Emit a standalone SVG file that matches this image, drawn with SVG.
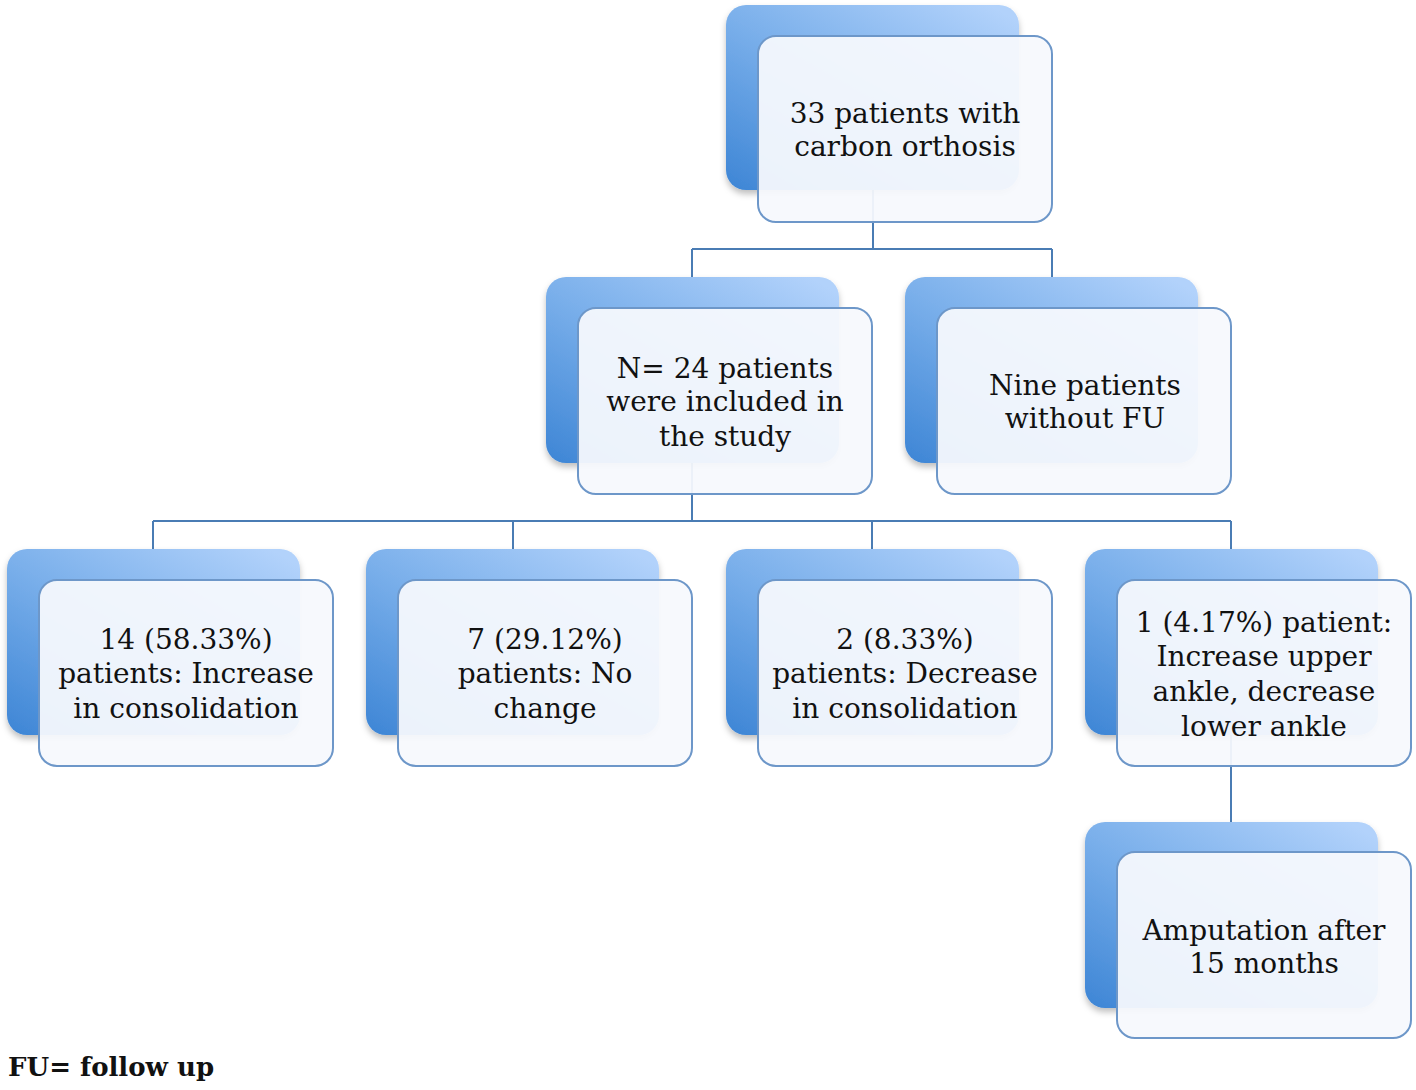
<svg xmlns="http://www.w3.org/2000/svg" width="1416" height="1090" viewBox="0 0 1416 1090">
<defs>
<linearGradient id="blueg" x1="0" y1="1" x2="0.9" y2="0">
<stop offset="0" stop-color="#3d85d5"/>
<stop offset="0.5" stop-color="#78aeea"/>
<stop offset="1" stop-color="#b2d2fb"/>
</linearGradient>
<filter id="sh" x="-10%" y="-10%" width="120%" height="125%">
<feDropShadow dx="0" dy="4" stdDeviation="3" flood-color="#000" flood-opacity="0.25"/>
</filter>
</defs>
<style>
.back{fill:url(#blueg);filter:url(#sh)}
.front{fill:#f7f9fd;fill-opacity:0.94;stroke:#6d97c9;stroke-width:2}
.conn{fill:none;stroke:#4a7cb4;stroke-width:2}
.t{font-family:"DejaVu Serif","Liberation Serif",serif;font-size:28px;fill:#111;text-anchor:middle}
.lg{font-family:"DejaVu Serif","Liberation Serif",serif;font-size:26px;font-weight:bold;fill:#111}
</style>
<rect width="1416" height="1090" fill="#fff"/>
<g id="connectors">
<path class="conn" d="M873 190V249M692 249H1052M692 249V277M1052 249V277"/>
<path class="conn" d="M692 463V521M153 521H1231M153 521V549M513 521V549M872 521V549M1231 521V549"/>
<path class="conn" d="M1231 735V822"/>
</g>
<g id="n1">
<rect class="back" x="726" y="5" width="293" height="185" rx="20"/>
<rect class="front" x="758" y="36" width="294" height="186" rx="18"/>
<text class="t" x="905" y="123">33 patients with</text>
<text class="t" x="905" y="156">carbon orthosis</text>
</g>
<g id="n2">
<rect class="back" x="546" y="277" width="293" height="186" rx="20"/>
<rect class="front" x="578" y="308" width="294" height="186" rx="18"/>
<text class="t" x="725" y="378">N= 24 patients</text>
<text class="t" x="725" y="411">were included in</text>
<text class="t" x="725" y="446">the study</text>
</g>
<g id="n3">
<rect class="back" x="905" y="277" width="293" height="186" rx="20"/>
<rect class="front" x="937" y="308" width="294" height="186" rx="18"/>
<text class="t" x="1085" y="395">Nine patients</text>
<text class="t" x="1085" y="428">without FU</text>
</g>
<g id="n4">
<rect class="back" x="7" y="549" width="293" height="186" rx="20"/>
<rect class="front" x="39" y="580" width="294" height="186" rx="18"/>
<text class="t" x="186" y="649">14 (58.33%)</text>
<text class="t" x="186" y="683">patients: Increase</text>
<text class="t" x="186" y="718">in consolidation</text>
</g>
<g id="n5">
<rect class="back" x="366" y="549" width="293" height="186" rx="20"/>
<rect class="front" x="398" y="580" width="294" height="186" rx="18"/>
<text class="t" x="545" y="649">7 (29.12%)</text>
<text class="t" x="545" y="683">patients: No</text>
<text class="t" x="545" y="718">change</text>
</g>
<g id="n6">
<rect class="back" x="726" y="549" width="293" height="186" rx="20"/>
<rect class="front" x="758" y="580" width="294" height="186" rx="18"/>
<text class="t" x="905" y="649">2 (8.33%)</text>
<text class="t" x="905" y="683">patients: Decrease</text>
<text class="t" x="905" y="718">in consolidation</text>
</g>
<g id="n7">
<rect class="back" x="1085" y="549" width="293" height="186" rx="20"/>
<rect class="front" x="1117" y="580" width="294" height="186" rx="18"/>
<text class="t" x="1264" y="632">1 (4.17%) patient:</text>
<text class="t" x="1264" y="666">Increase upper</text>
<text class="t" x="1264" y="701">ankle, decrease</text>
<text class="t" x="1264" y="736">lower ankle</text>
</g>
<g id="n8">
<rect class="back" x="1085" y="822" width="293" height="186" rx="20"/>
<rect class="front" x="1117" y="852" width="294" height="186" rx="18"/>
<text class="t" x="1264" y="940">Amputation after</text>
<text class="t" x="1264" y="973">15 months</text>
</g>
<text class="lg" x="8" y="1076">FU= follow up</text>
</svg>
